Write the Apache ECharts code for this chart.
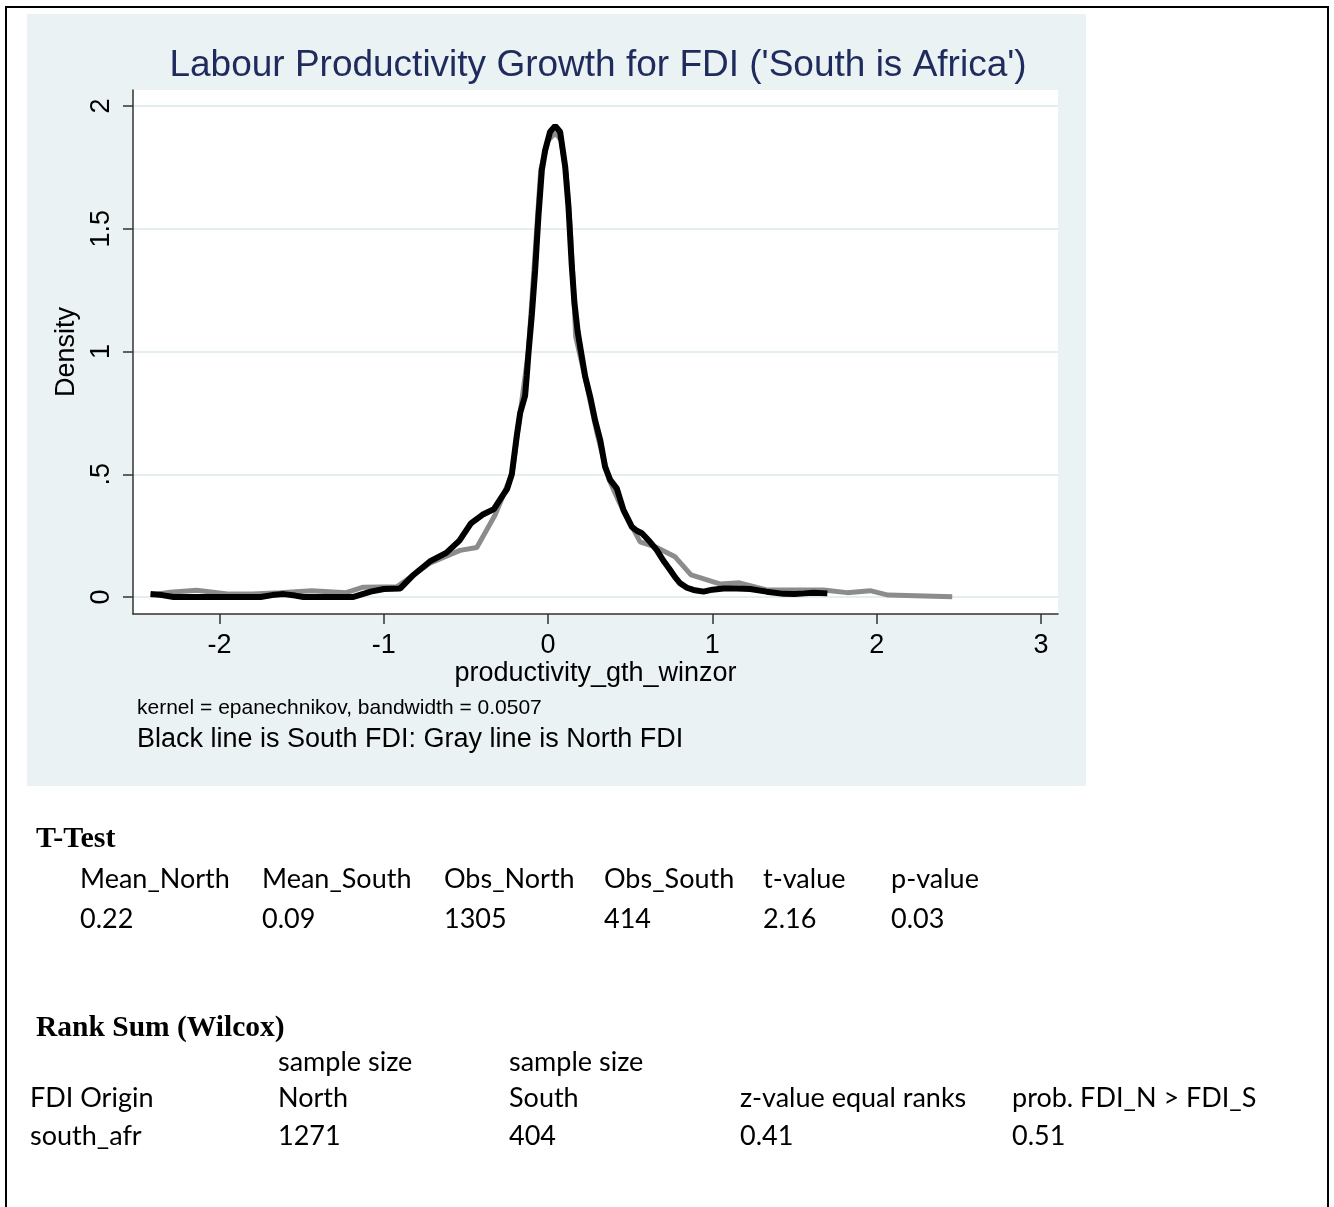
<!DOCTYPE html>
<html>
<head>
<meta charset="utf-8">
<script src="https://cdn.jsdelivr.net/npm/echarts@6/dist/echarts.min.js"></script>
<style>
  html, body { margin: 0; padding: 0; background: #fff; }
  #chart { width: 1334px; height: 1207px; }
</style>
</head>
<body>
<div id="chart"></div>
<script>
/* kernel density, South (black) vs North (gray) FDI */
var southX = [-2.42, -2.35, -2.28, -2.1, -1.9, -1.75, -1.68, -1.61, -1.54, -1.49, -1.3, -1.19, -1.08, -1.0, -0.9, -0.82, -0.72, -0.62, -0.54, -0.47, -0.4, -0.33, -0.28, -0.25, -0.221, -0.19, -0.17, -0.14, -0.13, -0.12, -0.099, -0.079, -0.059, -0.038, -0.018, 0.012, 0.043, 0.073, 0.104, 0.124, 0.144, 0.16, 0.18, 0.2, 0.225, 0.256, 0.286, 0.317, 0.347, 0.378, 0.418, 0.459, 0.51, 0.54, 0.571, 0.62, 0.662, 0.7, 0.743, 0.774, 0.804, 0.845, 0.885, 0.946, 1.0, 1.068, 1.15, 1.23, 1.33, 1.433, 1.5, 1.56, 1.616, 1.7];
var southY = [0.012, 0.008, 0, 0, 0, 0, 0.008, 0.012, 0.006, 0, 0, 0, 0.022, 0.033, 0.035, 0.09, 0.145, 0.18, 0.23, 0.3, 0.335, 0.358, 0.41, 0.44, 0.5, 0.66, 0.75, 0.82, 0.9, 0.99, 1.15, 1.33, 1.55, 1.74, 1.82, 1.895, 1.918, 1.895, 1.753, 1.59, 1.35, 1.2, 1.08, 1.0, 0.9, 0.816, 0.72, 0.64, 0.53, 0.477, 0.443, 0.354, 0.286, 0.27, 0.26, 0.225, 0.191, 0.15, 0.11, 0.08, 0.056, 0.038, 0.029, 0.022, 0.03, 0.035, 0.035, 0.033, 0.022, 0.013, 0.012, 0.015, 0.018, 0.015];
var northX = [-2.42, -2.3, -2.14, -1.94, -1.8, -1.63, -1.44, -1.23, -1.125, -0.92, -0.72, -0.536, -0.434, -0.323, -0.22, -0.12, -0.045, 0, 0.045, 0.08, 0.11, 0.135, 0.155, 0.168, 0.23, 0.3, 0.37, 0.43, 0.5, 0.56, 0.662, 0.773, 0.87, 1.05, 1.165, 1.33, 1.677, 1.82, 1.96, 2.07, 2.46];
var northY = [0.008, 0.02, 0.028, 0.012, 0.012, 0.018, 0.026, 0.018, 0.04, 0.042, 0.138, 0.19, 0.202, 0.334, 0.5, 1.0, 1.74, 1.86, 1.89, 1.86, 1.72, 1.5, 1.25, 1.06, 0.88, 0.66, 0.48, 0.39, 0.3, 0.225, 0.202, 0.164, 0.09, 0.053, 0.058, 0.029, 0.029, 0.018, 0.026, 0.008, 0.001];

var xTicks = [-2, -1, 0, 1, 2, 3];
var yTicks = [0, 0.5, 1, 1.5, 2];

var tHeaders = ['Mean_North', 'Mean_South', 'Obs_North', 'Obs_South', 't-value', 'p-value'];
var tValues = ['0.22', '0.09', '1305', '414', '2.16', '0.03'];
var rankTop = ['', 'sample size', 'sample size', '', ''];
var rankHead = ['FDI Origin', 'North', 'South', 'z-value equal ranks', 'prob. FDI_N > FDI_S'];
var rankValues = ['south_afr', '1271', '404', '0.41', '0.51'];

function zip(xs, ys) {
  var out = [];
  for (var i = 0; i < xs.length; i++) out.push([xs[i], ys[i]]);
  return out;
}

var sans = '"Liberation Sans", Arial, sans-serif';
var tableFont = 'Lato, sans-serif';
var serif = '"Liberation Serif", "Times New Roman", serif';

function txt(s, x, y, size, opts) {
  opts = opts || {};
  return {
    type: 'text', z: 10, x: x, y: y,
    style: {
      text: s, fill: opts.color || '#000',
      font: (opts.weight || 'normal') + ' ' + size + 'px ' + (opts.family || tableFont),
      textAlign: opts.align || 'left', textVerticalAlign: 'middle'
    }
  };
}

var tCols = [80, 262, 444, 604, 763, 891];
var rCols = [30, 278, 509, 740, 1012];
var graphics = [
  { type: 'rect', z: -100, shape: { x: 6, y: 7, width: 1322, height: 1220 },
    style: { fill: '#fff', stroke: '#000', lineWidth: 2 } },
  { type: 'rect', z: -99, shape: { x: 27, y: 14, width: 1059, height: 772 },
    style: { fill: '#eaf2f3' } },
  txt("Labour Productivity Growth for FDI ('South is Africa')", 598, 66, 37, { family: sans, align: 'center', color: '#1e2b5c' }),
  txt('kernel = epanechnikov, bandwidth = 0.0507', 137, 708, 21, { family: sans }),
  txt('Black line is South FDI: Gray line is North FDI', 137, 740, 27, { family: sans }),
  txt('T-Test', 36, 839, 30, { family: serif, weight: 'bold' }),
  txt('Rank Sum (Wilcox)', 36, 1028, 29.5, { family: serif, weight: 'bold' })
];
tHeaders.forEach(function(s, i) { graphics.push(txt(s, tCols[i], 879, 27)); });
tValues.forEach(function(s, i) { graphics.push(txt(s, tCols[i], 919, 27)); });
rankTop.forEach(function(s, i) { if (s) graphics.push(txt(s, rCols[i], 1062, 27)); });
rankHead.forEach(function(s, i) { graphics.push(txt(s, rCols[i], 1098, 27)); });
rankValues.forEach(function(s, i) { graphics.push(txt(s, rCols[i], 1136, 27)); });

var chart = echarts.init(document.getElementById('chart'));
chart.setOption({
  animation: false,
  backgroundColor: '#fff',
  graphic: graphics,
  grid: {
    left: 133, top: 90, width: 925, height: 524,
    show: true, backgroundColor: '#fff', borderWidth: 0
  },
  xAxis: {
    type: 'value', min: -2.527, max: 3.104,
    name: 'productivity_gth_winzor', nameLocation: 'middle', nameGap: 44,
    nameTextStyle: { fontSize: 27, color: '#000', fontFamily: sans },
    axisLine: { onZero: false, lineStyle: { color: '#333', width: 1.5 } },
    axisTick: { customValues: xTicks, length: 10, lineStyle: { color: '#333', width: 1.5 } },
    axisLabel: { customValues: xTicks, fontSize: 27, color: '#000', fontFamily: sans, margin: 18 },
    splitLine: { show: false }
  },
  yAxis: {
    type: 'value', min: -0.069, max: 2.065,
    name: 'Density', nameLocation: 'middle', nameGap: 47,
    nameTextStyle: { fontSize: 27, color: '#000', fontFamily: sans },
    axisLine: { show: true, onZero: false, lineStyle: { color: '#333', width: 1.5 } },
    axisTick: { show: true, customValues: yTicks, length: 10, lineStyle: { color: '#333', width: 1.5 } },
    axisLabel: {
      customValues: yTicks, rotate: 90, fontSize: 27, color: '#000', fontFamily: sans, margin: 18,
      formatter: function(v) { return v === 0.5 ? '.5' : String(v); }
    },
    splitLine: { show: true, lineStyle: { color: '#e3eef0', width: 2 } }
  },
  series: [
    {
      name: 'North FDI', type: 'line', data: zip(northX, northY),
      showSymbol: false, symbol: 'none', z: 3,
      lineStyle: { color: '#8c8c8c', width: 5 }
    },
    {
      name: 'South FDI', type: 'line', data: zip(southX, southY),
      showSymbol: false, symbol: 'none', z: 4,
      lineStyle: { color: '#000', width: 6 }
    }
  ]
});
</script>
</body>
</html>
